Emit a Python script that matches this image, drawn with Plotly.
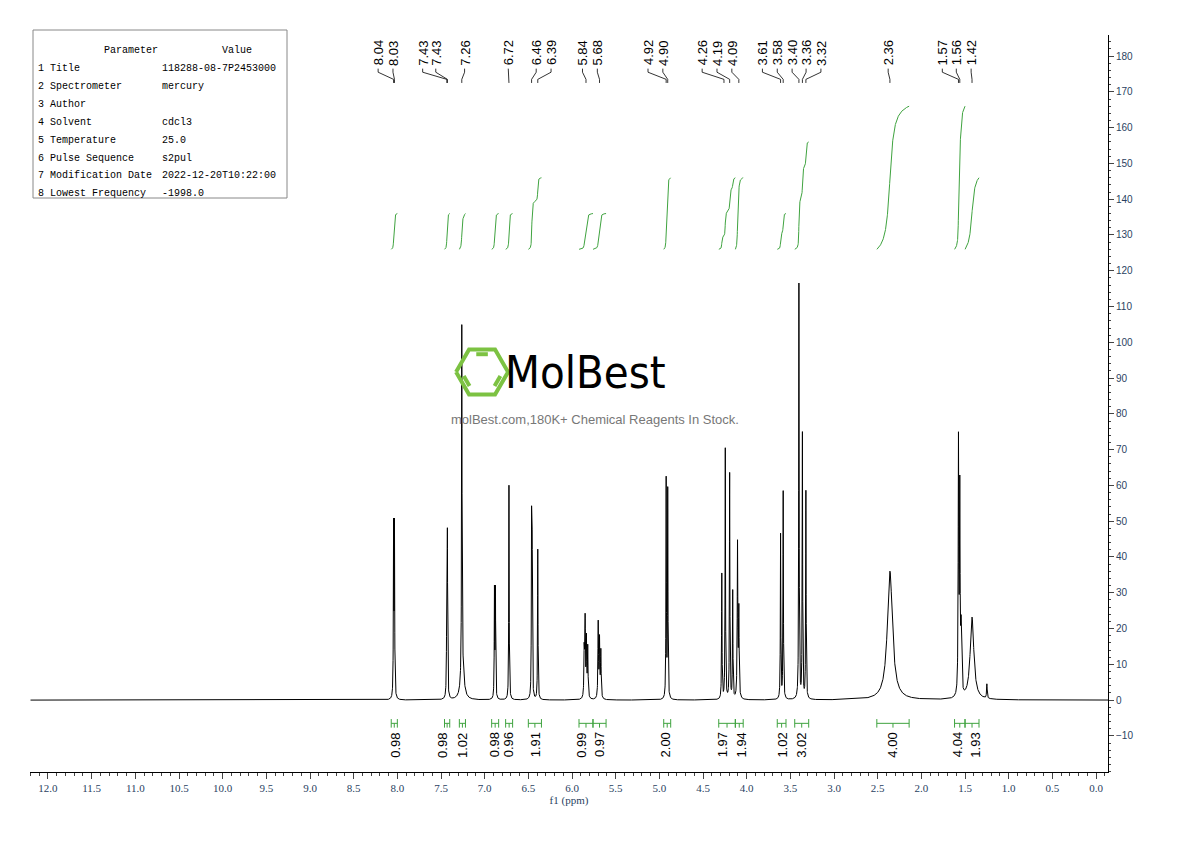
import numpy as np
import plotly.graph_objects as go

# peak list: position (ppm), height, half-width (ppm)
peak_ppm = [8.043, 8.033, 7.433, 7.427, 7.262, 7.255, 6.888, 6.877, 6.722, 6.463, 6.456, 6.392,
            5.86, 5.85, 5.835, 5.82, 5.70, 5.685, 5.67, 4.922, 4.904,
            4.285, 4.245, 4.195, 4.16, 4.105, 4.09, 3.612, 3.582, 3.402, 3.362, 3.322,
            2.36, 1.575, 1.56, 1.545, 1.42, 1.25]
peak_h = [47, 47, 40, 40, 96, 10, 30, 30, 60, 48, 40, 42,
          14, 21, 16, 14, 21, 16, 13, 61, 58,
          35, 70, 63, 30, 43, 24, 46, 58, 116, 74, 58,
          36, 70, 55, 18, 23, 4]
peak_w = [0.003, 0.003, 0.003, 0.003, 0.003, 0.02, 0.003, 0.003, 0.003, 0.003, 0.003, 0.003,
          0.004, 0.004, 0.004, 0.004, 0.004, 0.004, 0.004, 0.003, 0.003,
          0.003, 0.003, 0.003, 0.003, 0.004, 0.004, 0.003, 0.003, 0.003, 0.003, 0.003,
          0.035, 0.004, 0.004, 0.006, 0.025, 0.004]

# labelled peaks and where their labels sit (ppm)
label_txt = ["8.04", "8.03", "7.43", "7.43", "7.26", "6.72", "6.46", "6.39", "5.84", "5.68",
             "4.92", "4.90", "4.26", "4.19", "4.09", "3.61", "3.58", "3.40", "3.36", "3.32",
             "2.36", "1.57", "1.56", "1.42"]
label_peak = [8.043, 8.033, 7.433, 7.427, 7.262, 6.722, 6.463, 6.392, 5.84, 5.685,
              4.922, 4.904, 4.26, 4.195, 4.09, 3.612, 3.582, 3.402, 3.362, 3.322,
              2.36, 1.575, 1.56, 1.42]
label_pos = [8.22, 8.05, 7.71, 7.56, 7.23, 6.73, 6.41, 6.24, 5.88, 5.71,
             5.13, 4.96, 4.51, 4.34, 4.17, 3.82, 3.65, 3.48, 3.32, 3.15,
             2.38, 1.76, 1.60, 1.43]

# integration regions: start, end, integral value, label position (ppm)
int_start = [8.07, 7.46, 7.29, 6.92, 6.76, 6.50, 5.92, 5.76, 4.95, 4.32, 4.13, 3.65, 3.45, 2.51, 1.62, 1.50]
int_end = [8.00, 7.40, 7.22, 6.84, 6.68, 6.35, 5.76, 5.61, 4.87, 4.13, 4.04, 3.55, 3.29, 2.14, 1.50, 1.34]
int_val = [0.98, 0.98, 1.02, 0.98, 0.96, 1.91, 0.99, 0.97, 2.00, 1.97, 1.94, 1.02, 3.02, 4.00, 4.04, 1.93]
int_lab = [8.03, 7.49, 7.26, 6.89, 6.73, 6.42, 5.90, 5.69, 4.93, 4.28, 4.06, 3.60, 3.38, 2.34, 1.59, 1.39]

x_ticks = [round(12 - 0.5 * i, 1) for i in range(25)]
y_ticks = list(range(-10, 190, 10))
params = ["1 Title", "2 Spectrometer", "3 Author", "4 Solvent", "5 Temperature",
          "6 Pulse Sequence", "7 Modification Date", "8 Lowest Frequency"]
values = ["118288-08-7P2453000", "mercury", "", "cdcl3", "25.0", "s2pul",
          "2022-12-20T10:22:00", "-1998.0"]

GREEN = "#3fa33f"
PX_PPM = 87.33   # px per ppm
PX_Y = 3.578     # px per intensity unit

x = np.arange(12.2, -0.14, -0.001)
y = np.zeros_like(x)
for p, h, w in zip(peak_ppm, peak_h, peak_w):
    y += h * w**2 / ((x - p) ** 2 + w**2)

fig = go.Figure()
fig.add_trace(go.Scatter(x=x, y=y, mode="lines", line=dict(color="black", width=1), hoverinfo="skip"))

# integral curves
for s, e, v in zip(int_start, int_end, int_val):
    m = (x <= s) & (x >= e)
    cum = np.cumsum(y[m])
    cum = (cum - cum[0]) / (cum[-1] - cum[0])
    fig.add_trace(go.Scatter(x=x[m], y=126 + 10 * round(v) * cum, mode="lines",
                             line=dict(color=GREEN, width=1), hoverinfo="skip"))

# integration brackets and labels
for s, e, v, lp in zip(int_start, int_end, int_val, int_lab):
    fig.add_shape(type="line", x0=s, x1=e, y0=-6.5, y1=-6.5, line=dict(color=GREEN, width=1))
    for xx in (s, e):
        fig.add_shape(type="line", x0=xx, x1=xx, y0=-5.3, y1=-7.7, line=dict(color=GREEN, width=1))
    mid = (s + e) / 2
    fig.add_shape(type="line", x0=mid, x1=mid, y0=-6.5, y1=-7.7, line=dict(color=GREEN, width=1))
    fig.add_annotation(x=lp, y=-8.5, text=f"{v:.2f}", textangle=-90, showarrow=False,
                       yanchor="top", font=dict(family="Liberation Sans, Arial", size=13, color="black"))

# peak labels with connectors
for t, pk, lp in zip(label_txt, label_peak, label_pos):
    fig.add_trace(go.Scatter(x=[pk, pk, lp, lp], y=[172.5, 173.5, 175.5, 176.5], mode="lines",
                             line=dict(color="black", width=0.8), hoverinfo="skip"))
    fig.add_annotation(x=lp, y=176.8, text=t, textangle=-90, showarrow=False, yanchor="bottom",
                       font=dict(family="Liberation Sans, Arial", size=13, color="black"))

# watermark
cx, cy, r = 7.03, 91.7, 26
hx = [cx + r * np.cos(np.pi / 3 * k) / PX_PPM for k in range(7)]
hy = [cy + r * np.sin(np.pi / 3 * k) / PX_Y for k in range(7)]
fig.add_trace(go.Scatter(x=hx, y=hy, mode="lines", line=dict(color="#7cc242", width=4), hoverinfo="skip"))
for k in (1, 3, 5):
    a0, a1 = np.pi / 3 * (k + 0.2), np.pi / 3 * (k + 0.8)
    ri = r * 0.72
    fig.add_trace(go.Scatter(x=[cx + ri * np.cos(a0) / PX_PPM, cx + ri * np.cos(a1) / PX_PPM],
                             y=[cy + ri * np.sin(a0) / PX_Y, cy + ri * np.sin(a1) / PX_Y],
                             mode="lines", line=dict(color="#7cc242", width=4), hoverinfo="skip"))
fig.add_annotation(x=5.84, y=91.7, text="MolBest", showarrow=False,
                   font=dict(family="DejaVu Sans Condensed, DejaVu Sans", size=45, color="black"))
fig.add_annotation(x=5.74, y=78.5, text="molBest.com,180K+ Chemical Reagents In Stock.", showarrow=False,
                   font=dict(family="Liberation Sans, Arial", size=13, color="#777777"))

# parameter table (paper coords of plot area 30..1108 x 35..772)
def px(v):
    return (v - 30) / 1078


def py(v):
    return (772 - v) / 737


fig.add_shape(type="rect", xref="paper", yref="paper", x0=px(33), x1=px(287), y0=py(30), y1=py(198),
              line=dict(color="#888888", width=1))
mono = dict(family="Liberation Mono, DejaVu Sans Mono", size=10, color="black")
fig.add_annotation(xref="paper", yref="paper", x=px(102), y=py(43), text="Parameter", showarrow=False, font=mono)
fig.add_annotation(xref="paper", yref="paper", x=px(220), y=py(43), text="Value", showarrow=False, font=mono)
for i, (p, v) in enumerate(zip(params, values)):
    yy = py(61 + 17.9 * i)
    fig.add_annotation(xref="paper", yref="paper", x=px(36), y=yy, text=p, showarrow=False,
                       xanchor="left", font=mono)
    if v:
        fig.add_annotation(xref="paper", yref="paper", x=px(160), y=yy, text=v, showarrow=False,
                           xanchor="left", font=mono)

fig.update_layout(
    width=1190, height=841, showlegend=False,
    paper_bgcolor="white", plot_bgcolor="white",
    margin=dict(l=22, r=90, t=27, b=77),
    xaxis=dict(range=[12.206, -0.137], tickvals=x_ticks, ticktext=[f"{t:.1f}" for t in x_ticks],
               ticks="outside", ticklen=6, showgrid=False, zeroline=False, showline=True,
               linecolor="black", tickfont=dict(family="Liberation Serif, DejaVu Serif", size=11),
               minor=dict(dtick=0.1, ticks="outside", ticklen=3), title=dict(text="f1 (ppm)", standoff=2,
               font=dict(family="Liberation Serif, DejaVu Serif", size=11))),
    yaxis=dict(range=[-20.1, 185.9], side="right", tickvals=y_ticks, ticks="outside", ticklen=5,
               showgrid=False, zeroline=False, showline=True, linecolor="black",
               tickfont=dict(family="Liberation Sans, Arial", size=10),
               minor=dict(dtick=2, ticks="outside", ticklen=2)),
)

fig.write_html("out.html")
